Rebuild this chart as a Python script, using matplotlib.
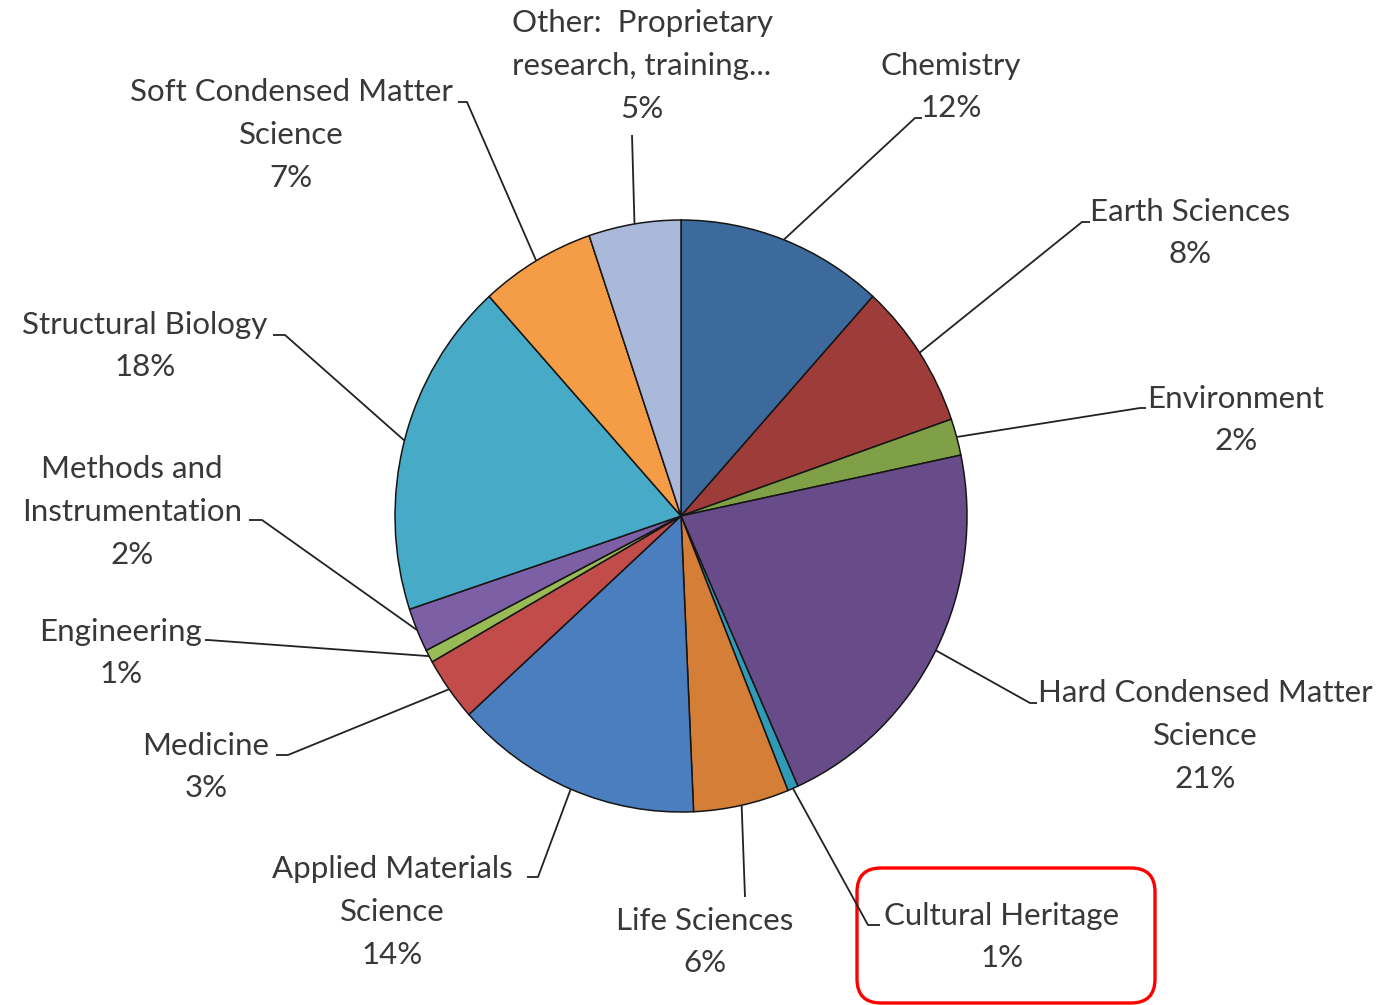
import numpy as np
import matplotlib
matplotlib.use("Agg")
import matplotlib.pyplot as plt
from matplotlib.patches import FancyBboxPatch

# ---- data (clockwise from 12 o'clock) ----
categories = ["Chemistry", "Earth Sciences", "Environment",
              "Hard Condensed Matter\nScience", "Cultural Heritage",
              "Life Sciences", "Applied Materials\nScience", "Medicine",
              "Engineering", "Methods and\nInstrumentation",
              "Structural Biology", "Soft Condensed Matter\nScience",
              "Other:  Proprietary\nresearch, training..."]
values = [11.7, 8.0, 2.0, 21.6, 0.6, 5.4, 14.0, 3.5, 0.7, 2.4, 18.4, 6.5, 5.2]
pct_labels = ["12%", "8%", "2%", "21%", "1%", "6%", "14%", "3%", "1%", "2%",
              "18%", "7%", "5%"]
colors = ["#3D6A9C", "#9E3C39", "#7FA046", "#674C89", "#2F9BB6", "#D57E37",
          "#4A7EBF", "#C24C49", "#98BB55", "#7D5FA6", "#47AAC6", "#F59C46",
          "#AAB9D9"]

# ---- layout (pixels, y down) ----
W, H = 1379, 1005
cx, cy, rx, ry = 681, 516, 286, 296
label_pos = [(951, 87), (1190, 233), (1236, 420), (1205, 736), (1002, 937),
             (705, 942), (392, 912), (206, 767), (121, 653), (132, 512),
             (145, 346), (291, 135), (642, 66)]
# leader: elbow point, end point
leaders = [((915, 118), (922, 118)), ((1082, 222), (1090, 222)),
           ((1140, 408), (1146, 408)), ((1030, 703), (1037, 703)),
           ((868, 925), (880, 925)), ((745, 897), (745, 897)),
           ((538, 877), (527, 877)), ((288, 755), (276, 755)),
           ((208, 640), (205, 640)), ((262, 520), (249, 520)),
           ((285, 335), (273, 335)), ((467, 102), (458, 102)),
           ((632, 135), (632, 135))]

fig = plt.figure(figsize=(W / 100, H / 100), dpi=100)
fig.patch.set_facecolor("white")

axp = fig.add_axes([(cx - rx) / W, (H - (cy + ry)) / H, 2 * rx / W, 2 * ry / H])
axp.pie(values, colors=colors, startangle=90, counterclock=False, radius=1,
        wedgeprops=dict(edgecolor="#151515", linewidth=1.1))
axp.set_aspect("auto")
axp.set_xlim(-1, 1)
axp.set_ylim(-1, 1)
axp.axis("off")

ax = fig.add_axes([0, 0, 1, 1], zorder=5)
ax.set_xlim(0, W)
ax.set_ylim(H, 0)
ax.axis("off")
ax.patch.set_alpha(0)

tot = sum(values)
cum = np.cumsum([0] + values)
for i, (cat, pct) in enumerate(zip(categories, pct_labels)):
    mid = (cum[i] + values[i] / 2) / tot
    th = np.deg2rad(90 - 360 * mid)
    sx = cx + rx * np.cos(th)
    sy = cy - ry * np.sin(th)
    (ex, ey), (fx, fy) = leaders[i]
    ax.plot([sx, ex, fx], [sy, ey, fy], color="#222222", lw=1.3,
            solid_capstyle="butt")
    lx, ly = label_pos[i]
    ax.text(lx, ly, cat + "\n" + pct, ha="center", va="center",
            fontsize=22.5, family="Lato", color="#383838", linespacing=1.64)

box = FancyBboxPatch((857, 868), 298, 135,
                     boxstyle="round,pad=0,rounding_size=24",
                     fill=False, edgecolor="#FF0000", linewidth=2.4)
ax.add_patch(box)

fig.savefig("out.png", dpi=100, facecolor="white")
